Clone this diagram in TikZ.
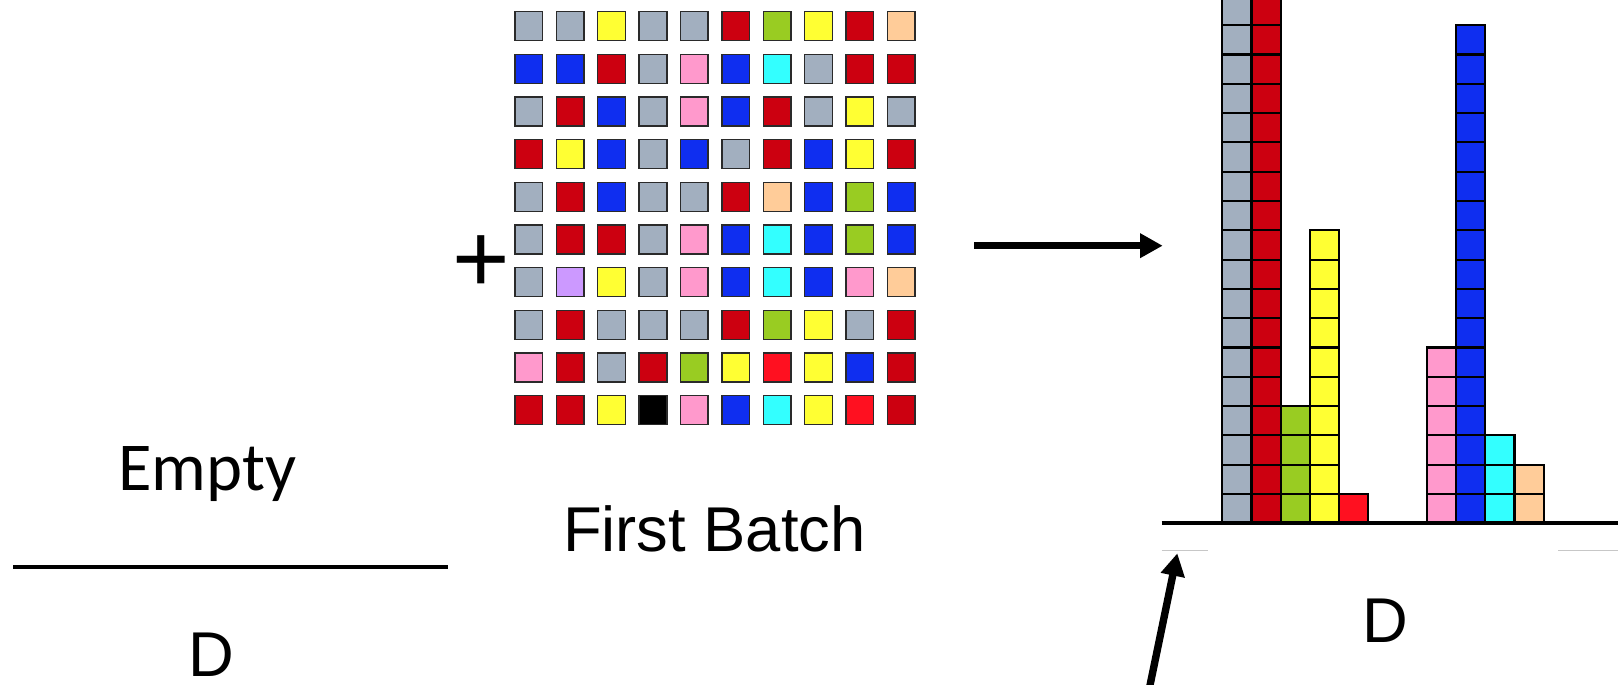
\documentclass[tikz,border=0pt]{standalone}
\usepackage{fontspec}
\setmainfont{Liberation Sans}
\newfontfamily\calibrifont{Carlito}
\usetikzlibrary{arrows.meta}

% palette of the tiles
\definecolor{cgray}{HTML}{A2AFBF}
\definecolor{cred}{HTML}{CC0010}
\definecolor{cyel}{HTML}{FFFF33}
\definecolor{cgrn}{HTML}{99CC22}
\definecolor{cpch}{HTML}{FFCC99}
\definecolor{cblu}{HTML}{0F2EF0}
\definecolor{cpnk}{HTML}{FF99CC}
\definecolor{ccyn}{HTML}{33FFFF}
\definecolor{clav}{HTML}{CC99FF}
\definecolor{cbrd}{HTML}{FF1020}
\definecolor{cblk}{HTML}{000000}
\definecolor{tileline}{HTML}{2A2A2A}

\tikzset{
  tile/.style={draw=tileline, line width=0.4pt},
  bar/.style={draw=black, line width=0.6pt},
  label/.style={anchor=base, inner sep=0pt, font=\fontsize{18}{22}\selectfont},
  bigarrow/.style={line width=2.1pt, -{Triangle[length=6.4pt,width=6.6pt]}},
}

\begin{document}
\begin{tikzpicture}[x=0.01cm, y=-0.01cm]
\useasboundingbox (0,0) rectangle (1621,685);
\clip (0,0) rectangle (1621,685);

% ---- left: empty state ----
\node[anchor=base, inner sep=0pt, font=\calibrifont\fontsize{19.5}{23}\selectfont] (empty) at (207.5,490) {Empty};
\coordinate (la) at (13,566.7);
\coordinate (lb) at (448,566.7);
\draw[line width=1.25pt] (la) -- (lb);
\node[label] (dleft) at (211.8,676.5) {D};

% ---- middle: the batch of tiles ----
\node[anchor=base, inner sep=0pt, font=\fontsize{28}{32}\selectfont] (plus) at (481.7,293) {+};
\foreach \row [count=\r from 0] in {
  {cgray,cgray,cyel,cgray,cgray,cred,cgrn,cyel,cred,cpch},
  {cblu,cblu,cred,cgray,cpnk,cblu,ccyn,cgray,cred,cred},
  {cgray,cred,cblu,cgray,cpnk,cblu,cred,cgray,cyel,cgray},
  {cred,cyel,cblu,cgray,cblu,cgray,cred,cblu,cyel,cred},
  {cgray,cred,cblu,cgray,cgray,cred,cpch,cblu,cgrn,cblu},
  {cgray,cred,cred,cgray,cpnk,cblu,ccyn,cblu,cgrn,cblu},
  {cgray,clav,cyel,cgray,cpnk,cblu,ccyn,cblu,cpnk,cpch},
  {cgray,cred,cgray,cgray,cgray,cred,cgrn,cyel,cgray,cred},
  {cpnk,cred,cgray,cred,cgrn,cyel,cbrd,cyel,cblu,cred},
  {cred,cred,cyel,cblk,cpnk,cblu,ccyn,cyel,cbrd,cred}} {
  \foreach \c [count=\k from 0] in \row {
    \filldraw[tile, fill=\c] ({515+\k*41.37},{11.7+\r*42.67}) rectangle ++(27.7,29);
  }
}
\node[label] (batch) at (714.3,551) {First Batch};

% ---- arrow to the histogram ----
\coordinate (ha) at (974,245.7);
\coordinate (hb) at (1162.7,245.7);
\draw[bigarrow] (ha) -- (hb);

% ---- right: stacked counts ----
\foreach \x/\n/\c in {1222.3/18/cgray, 1251.5/18/cred, 1280.7/4/cgrn, 1309.9/10/cyel, 1339.1/1/cbrd,
                      1426.7/6/cpnk, 1456.0/17/cblu, 1485.3/3/ccyn, 1514.6/2/cpch} {
  \foreach \j in {1,...,\n} {
    \filldraw[bar, fill=\c] (\x,{523.3-\j*29.3}) rectangle ++(29.2,29.3);
  }
}
\coordinate (axa) at (1161.7,523.3);
\coordinate (axb) at (1618,523.3);
\draw[line width=1.1pt] (axa) -- (axb);

% faint rules under the axis
\coordinate (fa) at (1161.7,550.7);
\coordinate (fb) at (1208.3,550.7);
\coordinate (fc) at (1558.3,550.7);
\coordinate (fd) at (1618,550.7);
\draw[black!22, line width=0.35pt] (fa) -- (fb);
\draw[black!22, line width=0.35pt] (fc) -- (fd);

\node[label] (dright) at (1385.3,642.3) {D};

% pointer to the axis origin
\coordinate (pa) at (1148.6,692);
\coordinate (pb) at (1177.3,553.3);
\draw[bigarrow] (pa) -- (pb);
\end{tikzpicture}
\end{document}
